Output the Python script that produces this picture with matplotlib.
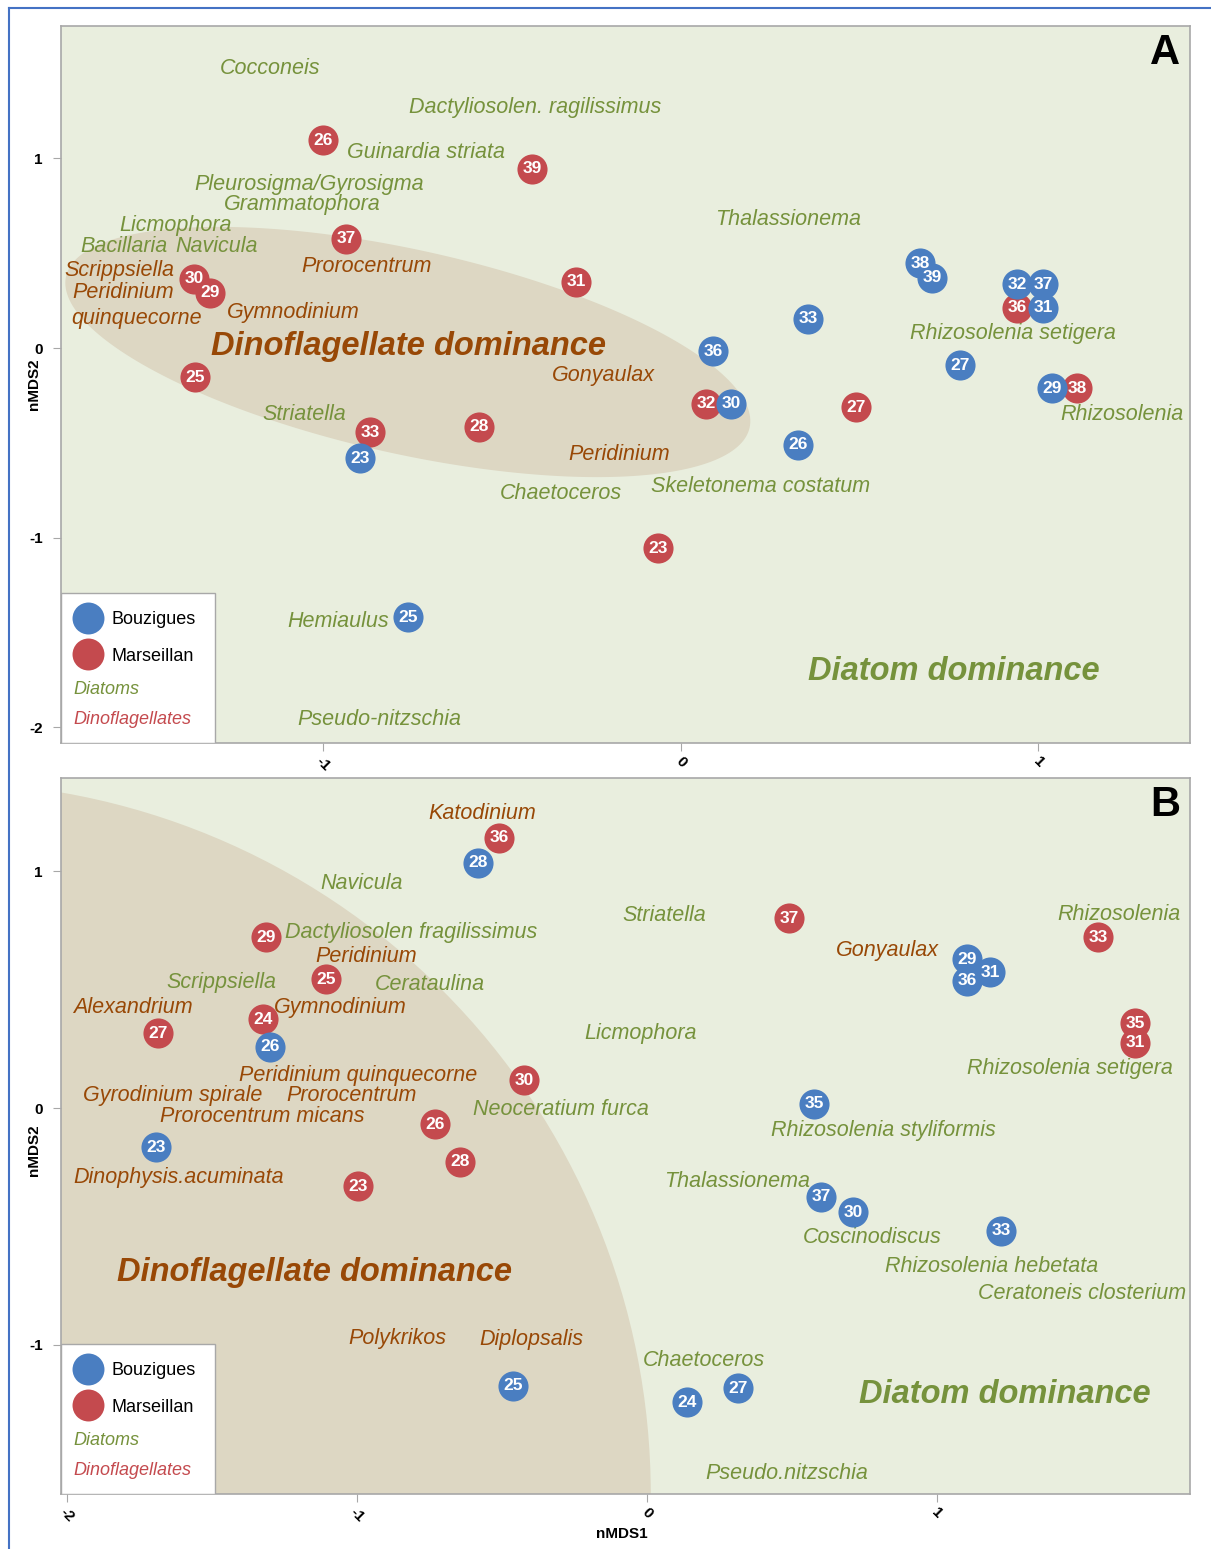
import matplotlib
matplotlib.use("Agg")
import matplotlib.pyplot as plt
import numpy as np
from matplotlib.lines import Line2D
from matplotlib.patches import Ellipse, Polygon, Rectangle

BG = "#E9EEDE"
REGION = "#DDD7C3"
BLUE = "#4A7EC1"
RED = "#C44A4E"
GREEN = "#76923C"
BROWN = "#984806"
SPINE = "#A8A8A8"
FONT = ["Liberation Sans", "DejaVu Sans"]
NUMFONT = ["Liberation Sans Narrow", "Liberation Sans", "DejaVu Sans"]

# ---- panel A: sampling weeks on nMDS1/nMDS2 ----
a_bouz_week = [38, 39, 32, 37, 31, 33, 36, 27, 29, 30, 26, 23, 25]
a_bouz_x = [0.669, 0.702, 0.940, 1.013, 1.013, 0.355, 0.090, 0.780, 1.038, 0.140, 0.327, -0.898, -0.764]
a_bouz_y = [0.448, 0.369, 0.337, 0.337, 0.211, 0.153, -0.016, -0.090, -0.211, -0.295, -0.511, -0.580, -1.418]

a_mars_week = [26, 39, 37, 31, 30, 29, 25, 33, 28, 32, 27, 23, 36, 38]
a_mars_x = [-1.001, -0.417, -0.937, -0.294, -1.362, -1.317, -1.359, -0.870, -0.565, 0.070, 0.490, -0.064, 0.940, 1.108]
a_mars_y = [1.096, 0.944, 0.575, 0.348, 0.364, 0.290, -0.153, -0.443, -0.416, -0.295, -0.311, -1.054, 0.211, -0.211]

a_diatoms = ["Cocconeis", "Dactyliosolen. ragilissimus", "Guinardia striata", "Pleurosigma/Gyrosigma",
             "Grammatophora", "Licmophora", "Bacillaria", "Navicula", "Thalassionema",
             "Rhizosolenia setigera", "Rhizosolenia", "Striatella", "Chaetoceros",
             "Skeletonema costatum", "Hemiaulus", "Pseudo-nitzschia"]
a_diatom_x = [-1.290, -0.761, -0.934, -1.362, -1.278, -1.572, -1.681, -1.415, 0.095,
              0.641, 1.060, -1.172, -0.506, -0.084, -1.102, -1.074]
a_diatom_y = [1.487, 1.281, 1.044, 0.875, 0.770, 0.659, 0.548, 0.548, 0.691,
              0.090, -0.337, -0.337, -0.754, -0.717, -1.429, -1.945]

a_dinos = ["Scrippsiella", "Peridinium", "quinquecorne", "Prorocentrum", "Gymnodinium",
           "Gonyaulax", "Peridinium"]
a_dino_x = [-1.726, -1.703, -1.706, -1.063, -1.270, -0.361, -0.316]
a_dino_y = [0.422, 0.306, 0.169, 0.443, 0.200, -0.132, -0.548]

# ---- panel B ----
b_bouz_week = [28, 26, 23, 29, 31, 36, 35, 37, 30, 33, 25, 24, 27]
b_bouz_x = [-0.583, -1.300, -1.693, 1.103, 1.183, 1.103, 0.576, 0.600, 0.710, 1.221, -0.462, 0.138, 0.314]
b_bouz_y = [1.036, 0.258, -0.165, 0.630, 0.575, 0.537, 0.017, -0.376, -0.440, -0.520, -1.175, -1.243, -1.184]

b_mars_week = [36, 29, 25, 27, 24, 30, 26, 28, 23, 37, 33, 35, 31]
b_mars_x = [-0.510, -1.314, -1.107, -1.686, -1.324, -0.424, -0.731, -0.645, -0.997, 0.490, 1.555, 1.683, 1.683]
b_mars_y = [1.142, 0.723, 0.545, 0.317, 0.376, 0.118, -0.068, -0.228, -0.330, 0.803, 0.723, 0.359, 0.275]

b_diatoms = ["Navicula", "Dactyliosolen fragilissimus", "Scrippsiella", "Cerataulina", "Striatella",
             "Licmophora", "Rhizosolenia", "Rhizosolenia setigera", "Neoceratium furca",
             "Rhizosolenia styliformis", "Thalassionema", "Coscinodiscus", "Rhizosolenia hebetata",
             "Ceratoneis closterium", "Chaetoceros", "Pseudo.nitzschia"]
b_diatom_x = [-1.128, -1.248, -1.659, -0.941, -0.086, -0.217, 1.414, 1.103, -0.600,
              0.428, 0.059, 0.538, 0.821, 1.141, -0.017, 0.200]
b_diatom_y = [0.960, 0.753, 0.541, 0.533, 0.825, 0.326, 0.829, 0.178, 0.004,
              -0.085, -0.300, -0.537, -0.660, -0.774, -1.057, -1.535]

b_dinos = ["Katodinium", "Peridinium", "Alexandrium", "Gymnodinium", "Peridinium quinquecorne",
           "Gyrodinium spirale", "Prorocentrum", "Prorocentrum micans", "Dinophysis.acuminata",
           "Gonyaulax", "Polykrikos", "Diplopsalis"]
b_dino_x = [-0.755, -1.145, -1.979, -1.286, -1.407, -1.945, -1.245, -1.679, -1.979, 0.652, -1.031, -0.579]
b_dino_y = [1.256, 0.651, 0.436, 0.436, 0.148, 0.063, 0.063, -0.025, -0.283, 0.677, -0.964, -0.968]

# dominance annotations (left edge, centre)
a_dino_dom = (-1.315, 0.026)
a_diat_dom = (0.355, -1.687)
b_dino_dom = (-1.828, -0.681)
b_diat_dom = (0.731, -1.197)


def dino_region_a(ax):
    # tilted ellipse around the dinoflagellate-dominated samples
    t = np.linspace(0, 2 * np.pi, 240)
    cx, cy = -0.764, -0.021
    major, minor = (0.956, -0.399), (-0.062, -0.525)
    xs = cx + np.cos(t) * major[0] + np.sin(t) * minor[0]
    ys = cy + np.cos(t) * major[1] + np.sin(t) * minor[1]
    ax.add_patch(Polygon(np.column_stack([xs, ys]), closed=True, fc=REGION, ec="none", zorder=1))


def dino_region_b(ax):
    ax.add_patch(Ellipse((-2.438, -1.632), 4.90, 6.02, fc=REGION, ec="none", zorder=1))


def add_legend(ax):
    ax.add_patch(Rectangle((0, 0), 0.136, 0.209, transform=ax.transAxes, fc="white",
                           ec=SPINE, lw=1, zorder=5))
    for yy, col, lab in [(0.175, BLUE, "Bouzigues"), (0.124, RED, "Marseillan")]:
        ax.plot([0.0239], [yy], "o", ms=23, color=col, mec="none", transform=ax.transAxes,
                zorder=6, clip_on=False)
        ax.text(0.0443, yy, lab, transform=ax.transAxes, va="center_baseline", fontsize=13,
                family=FONT, zorder=6)
    ax.text(0.0106, 0.078, "Diatoms", transform=ax.transAxes, va="center_baseline", fontsize=13,
            style="italic", color=GREEN, family=FONT, zorder=6)
    ax.text(0.0106, 0.036, "Dinoflagellates", transform=ax.transAxes, va="center_baseline",
            fontsize=13, style="italic", color=RED, family=FONT, zorder=6)


def panel(ax, xlim, ylim, xticks, yticks, bouz, mars, diat, dino, dino_dom, diat_dom, letter):
    ax.set_facecolor(BG)
    ax.set_xlim(*xlim)
    ax.set_ylim(*ylim)
    for s in ax.spines.values():
        s.set_color(SPINE)
        s.set_linewidth(1.2)

    for names, xs, ys, col in [(diat[0], diat[1], diat[2], GREEN), (dino[0], dino[1], dino[2], BROWN)]:
        for n, x, y in zip(names, xs, ys):
            ax.text(x, y, n, ha="left", va="center_baseline", fontsize=15.5, style="italic",
                    color=col, family=FONT, zorder=2)

    for (weeks, xs, ys), col, z in [(mars, RED, 3), (bouz, BLUE, 3.5)]:
        ax.scatter(xs, ys, s=470, color=col, linewidths=0, zorder=z)
        for w, x, y in zip(weeks, xs, ys):
            ax.text(x, y, str(w), ha="center", va="center", color="white", fontsize=12.5,
                    fontweight="bold", family=NUMFONT, zorder=z + 0.1)

    ax.text(dino_dom[0], dino_dom[1], "Dinoflagellate dominance", ha="left", va="center_baseline",
            fontsize=23.5, fontweight="bold", style="italic", color=BROWN, family=FONT, zorder=2)
    ax.text(diat_dom[0], diat_dom[1], "Diatom dominance", ha="left", va="center_baseline",
            fontsize=23.5, fontweight="bold", style="italic", color=GREEN, family=FONT, zorder=2)
    ax.text(0.978, 0.962, letter, transform=ax.transAxes, ha="center", va="center",
            fontsize=30, fontweight="bold", family=FONT)

    ax.set_xticks(xticks)
    ax.set_xticklabels([f"{t:g}" for t in xticks], rotation=-45, fontweight="bold",
                       family=FONT, fontsize=11)
    ax.set_yticks(yticks)
    ax.set_yticklabels([f"{t:g}" for t in yticks], fontweight="bold", family=FONT, fontsize=11)
    ax.tick_params(direction="out", length=6, color=SPINE, pad=7)
    ax.tick_params(axis="x", pad=2)
    ax.set_ylabel("nMDS2", fontweight="bold", family=FONT, fontsize=11)
    add_legend(ax)


fig = plt.figure(figsize=(12.11, 15.49), dpi=100)
ax_a = fig.add_axes([0.0504, 0.5203, 0.9323, 0.4629])
ax_b = fig.add_axes([0.0504, 0.0355, 0.9323, 0.4622])

dino_region_a(ax_a)
panel(ax_a, (-1.734, 1.424), (-2.082, 1.697), [-1, 0, 1], [1, 0, -1, -2],
      (a_bouz_week, a_bouz_x, a_bouz_y), (a_mars_week, a_mars_x, a_mars_y),
      (a_diatoms, a_diatom_x, a_diatom_y), (a_dinos, a_dino_x, a_dino_y),
      a_dino_dom, a_diat_dom, "A")
ax_a.yaxis.set_label_coords(-0.018, 0.5)

dino_region_b(ax_b)
panel(ax_b, (-2.022, 1.872), (-1.632, 1.395), [-2, -1, 0, 1], [1, 0, -1],
      (b_bouz_week, b_bouz_x, b_bouz_y), (b_mars_week, b_mars_x, b_mars_y),
      (b_diatoms, b_diatom_x, b_diatom_y), (b_dinos, b_dino_x, b_dino_y),
      b_dino_dom, b_diat_dom, "B")
ax_b.yaxis.set_label_coords(-0.018, 0.48)
ax_b.set_xlabel("nMDS1", fontweight="bold", family=FONT, fontsize=11)
ax_b.xaxis.set_label_coords(0.497, -0.046)

# thin blue frame at the left and top of the figure
fig.add_artist(Line2D([0.0074, 0.0074], [0, 0.9948], color="#4472C4", lw=1.5))
fig.add_artist(Line2D([0.0074, 1], [0.9948, 0.9948], color="#4472C4", lw=1.5))

fig.savefig("out.png", dpi=100)
